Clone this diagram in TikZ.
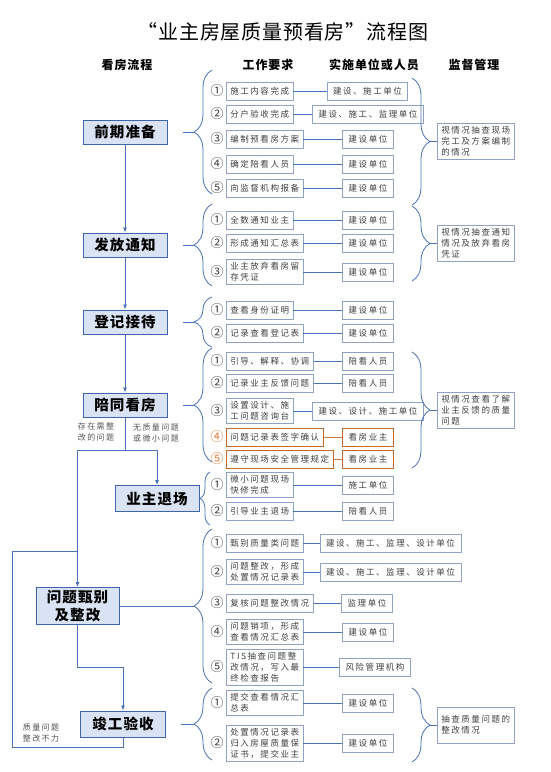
\documentclass[tikz,border=0pt]{standalone}
\usepackage{fontspec}
\setmainfont{Noto Sans CJK SC}
\newfontfamily\itemfont[LetterSpace=18]{Noto Sans CJK SC}
\newfontfamily\headfont[LetterSpace=8]{Noto Sans CJK SC}
\newfontfamily\titlefont[LetterSpace=4]{Noto Sans CJK SC}
\usetikzlibrary{arrows.meta, decorations.pathreplacing}

\definecolor{linkblue}{HTML}{4A72B8}
\definecolor{stageedge}{HTML}{3F66AC}
\definecolor{stagefill}{HTML}{DAE3F3}
\definecolor{plainedge}{HTML}{8EA2C4}
\definecolor{plainnum}{HTML}{404040}
\definecolor{plainlink}{HTML}{4A72B8}
\definecolor{warnedge}{HTML}{C5692A}
\definecolor{warnnum}{HTML}{E07B39}
\definecolor{warnlink}{HTML}{D0773A}
\definecolor{inktext}{HTML}{404040}
\definecolor{notegrey}{HTML}{555555}

\newcommand\circnum[1]{\ifcase#1\or ①\or ②\or ③\or ④\or ⑤\fi}

\begin{document}
\begin{tikzpicture}[x=1pt, y=-1pt,
    stage/.style={draw=stageedge, fill=stagefill, line width=1pt, minimum width=84pt, minimum height=24pt,
      inner sep=0pt, align=center, font=\headfont\fontsize{14.5}{18}\selectfont\bfseries},
    task/.style={draw=plainedge, line width=0.8pt, fill=white, anchor=west, minimum height=18pt,
      inner xsep=4pt, inner ysep=3pt, align=left, text=inktext, font=\itemfont\fontsize{8.5}{11}\selectfont},
    unit/.style={task, anchor=center, inner xsep=6pt},
    check/.style={task, minimum width=75pt, minimum height=36pt},
    num/.style={inner sep=0pt, font=\fontsize{13}{13}\selectfont},
    link/.style={draw=linkblue, line width=0.8pt},
    flow/.style={link, -{Latex[length=5pt,width=4pt]}},
    curly/.style={link, decorate, decoration={brace, amplitude=#1}},
    curly/.default=18pt,
    note/.style={align=left, text=notegrey, font=\itemfont\fontsize{8}{10.5}\selectfont}]

    \fill[white] (0,0) rectangle (550,772);
    \useasboundingbox (0,0) rectangle (550,772);

    % title and column heads
    \node[font=\titlefont\fontsize{20}{24}\selectfont] (title) at (283,32) {“业主房屋质量预看房”流程图};
    \node[font=\headfont\fontsize{12}{14}\selectfont\bfseries] (h1) at (127,64.5) {看房流程};
    \node[font=\headfont\fontsize{12}{14}\selectfont\bfseries] (h2) at (268,64.5) {工作要求};
    \node[font=\headfont\fontsize{12}{14}\selectfont\bfseries] (h3) at (374,64.5) {实施单位或人员};
    \node[font=\headfont\fontsize{12}{14}\selectfont\bfseries] (h4) at (474,64.5) {监督管理};

    % stages of the visit
    \node[stage] (qianqi) at (125,132) {前期准备};
    \node[stage] (fafang) at (125,245) {发放通知};
    \node[stage] (dengji) at (125,322) {登记接待};
    \node[stage] (peitong) at (125,405) {陪同看房};
    \node[stage, minimum height=26pt] (tuichang) at (157,498.5) {业主退场};
    \node[stage, minimum width=83pt, minimum height=37pt] (wenti) at (77.5,606) {问题甄别\\及整改};
    \node[stage, minimum width=85pt, minimum height=26pt] (jungong) at (123,724) {竣工验收};

    % main flow
    \coordinate (fork) at (125,450);
    \coordinate (bend) at (77.5,667);
    \coordinate (lowleft) at (12,747);
    \coordinate (merge) at (77.5,551);
    \draw[flow] (qianqi) -- (fafang);
    \draw[flow] (fafang) -- (dengji);
    \draw[flow] (dengji) -- (peitong);
    \draw[flow] (peitong.south) -- (fork) -| (tuichang.north);
    \draw[flow] (fork) -| (wenti.north);
    \draw[flow] (wenti.south) -- (bend) -| (jungong.north);
    \draw[link] (jungong.south) |- (lowleft) |- (merge);

    \node[note] (n1) at (96,432) {存在需整\\改的问题};
    \node[note] (n2) at (156,433) {无质量问题\\或微小问题};
    \node[note] (n3) at (41,733) {质量问题\\整改不力};

    % left braces, tip points back to the stage
    \draw[curly] (212,194) -- (212,70);
    \draw[curly] (212,286) -- (212,204);
    \draw[curly] (212,347) -- (212,297);
    \draw[curly] (212,462) -- (212,348);
    \draw[curly=10pt] (210,525) -- (210,472);
    \draw[curly] (212,683) -- (212,529);
    \draw[curly] (212,760) -- (212,688);
    \coordinate (bq) at (194,132);
    \coordinate (bf) at (194,245);
    \coordinate (bd) at (194,322);
    \coordinate (bp) at (194,405);
    \coordinate (bw) at (194,606);
    \coordinate (bj) at (194,724);
    \draw[link, shorten <=15pt] (qianqi.east) -- (bq);
    \draw[link, shorten <=15pt] (fafang.east) -- (bf);
    \draw[link, shorten <=15pt] (dengji.east) -- (bd);
    \draw[link, shorten <=15pt] (peitong.east) -- (bp);
    \draw[link] (wenti.east) -- (bw);
    \draw[link, shorten <=15pt] (jungong.east) -- (bj);

    % work items and who does them
    \foreach \g/\n/\y/\work/\ux/\who/\kind in {
        1/1/91/施工内容完成/367.5/建设、施工单位/plain,
        1/2/114/分户验收完成/368/建设、施工、监理单位/plain,
        1/3/139/编制预看房方案/368/建设单位/plain,
        1/4/164/确定陪看人员/368/建设单位/plain,
        1/5/188/向监督机构报备/368/建设单位/plain,
        2/1/220/全数通知业主/368/建设单位/plain,
        2/2/243/形成通知汇总表/368/建设单位/plain,
        2/3/272/{业主放弃看房留\\存凭证}/368/建设单位/plain,
        3/1/310/查看身份证明/368/建设单位/plain,
        3/2/333/记录查看登记表/368/建设单位/plain,
        4/1/361/引导、解释、协调/368/陪看人员/plain,
        4/2/383/记录业主反馈问题/368/陪看人员/plain,
        4/3/411/{设置设计、施\\工问题咨询台}/368/建设、设计、施工单位/plain,
        4/4/437/问题记录表签字确认/368/看房业主/warn,
        4/5/459/遵守现场安全管理规定/368/看房业主/warn,
        5/1/485/{微小问题现场\\快修完成}/368/施工单位/plain,
        5/2/511/引导业主退场/368/陪看人员/plain,
        6/1/543/甄别质量类问题/390.5/建设、施工、监理、设计单位/plain,
        6/2/572/{问题整改，形成\\处置情况记录表}/390.5/建设、施工、监理、设计单位/plain,
        6/3/603/复核问题整改情况/367/监理单位/plain,
        6/4/632/{问题销项，形成\\查看情况汇总表}/368/建设单位/plain,
        6/5/667/{TIS抽查问题整\\改情况，写入最\\终检查报告}/375/风险管理机构/plain,
        7/1/703/{提交查看情况汇\\总表}/368/建设单位/plain,
        7/2/743/{处置情况记录表\\归入房屋质量保\\证书，提交业主}/368/建设单位/plain}{
      \node[num, text=\kind num] (c\g\n) at (217,\y) {\circnum{\n}};
      \node[task, draw=\kind edge] (t\g\n) at (226,\y) {\work};
      \node[unit, draw=\kind edge] (u\g\n) at (\ux,\y) {\who};
      \draw[link, draw=\kind link] (t\g\n) -- (u\g\n);
    }

    % supervision
    \draw[curly] (412,78) -- (412,205);
    \draw[curly] (412,206) -- (412,281);
    \draw[curly] (412,352) -- (412,468);
    \draw[curly] (412,688) -- (412,762);
    \coordinate (r1) at (430,141.5);
    \coordinate (r2) at (430,243.5);
    \coordinate (r3) at (430,410);
    \coordinate (r4) at (430,725);
    \node[check] (s1) at (437,141.5) {视情况抽查现场\\完工及方案编制\\的情况};
    \node[check] (s2) at (437,243.5) {视情况抽查通知\\情况及放弃看房\\凭证};
    \node[check] (s3) at (437,410) {视情况查看了解\\业主反馈的质量\\问题};
    \node[check] (s4) at (437,725) {抽查质量问题的\\整改情况};
    \draw[link] (r1) -- (s1.west);
    \draw[link] (r2) -- (s2.west);
    \draw[link] (r3) -- (s3.west);
    \draw[link] (r4) -- (s4.west);
\end{tikzpicture}
\end{document}
